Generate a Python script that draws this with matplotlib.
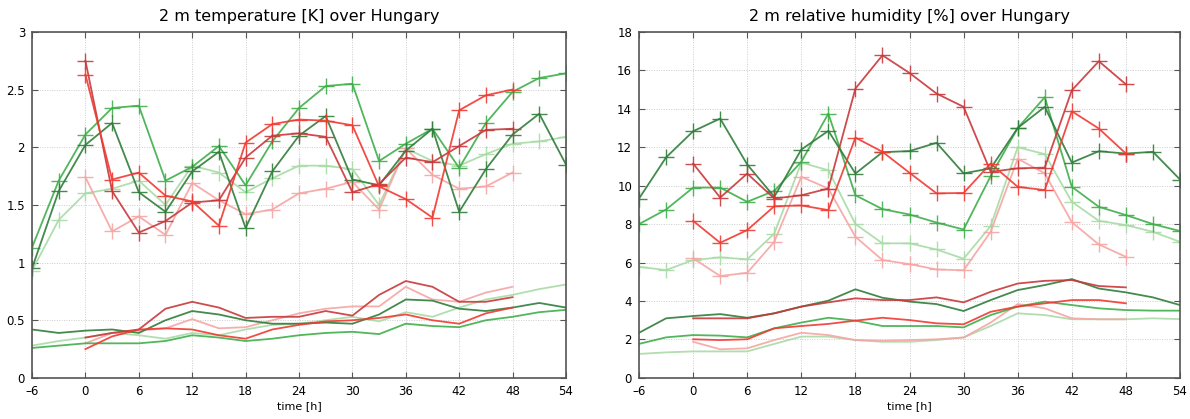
import matplotlib
matplotlib.use('Agg')
import matplotlib.pyplot as plt
import numpy as np

# forecast lead times
t_green = np.arange(-6, 55, 3)
t_red = np.arange(0, 49, 3)

# 2 m temperature [K] - upper curves (with markers)
temp_dkgreen = [0.95, 1.62, 2.02, 2.21, 1.61, 1.44, 1.79, 1.96, 1.30, 1.79, 2.10,
                2.27, 1.72, 1.67, 1.97, 2.16, 1.44, 1.81, 2.11, 2.29, 1.85]
temp_green = [1.13, 1.71, 2.11, 2.34, 2.36, 1.71, 1.83, 2.01, 1.67, 2.05, 2.34,
              2.53, 2.55, 1.88, 2.03, 2.16, 1.82, 2.21, 2.48, 2.60, 2.64]
temp_ltgreen = [0.93, 1.37, 1.60, 1.64, 1.71, 1.50, 1.84, 1.78, 1.61, 1.73, 1.84,
                1.84, 1.81, 1.50, 1.99, 1.88, 1.84, 1.94, 2.03, 2.05, 2.09]
temp_red = [2.63, 1.72, 1.78, 1.58, 1.53, 1.32, 2.04, 2.20, 2.24, 2.23, 2.19,
            1.66, 1.55, 1.39, 2.32, 2.45, 2.50]
temp_dkred = [2.75, 1.62, 1.26, 1.36, 1.52, 1.54, 1.91, 2.10, 2.12, 2.09, 1.61,
              1.68, 1.91, 1.87, 2.01, 2.15, 2.16]
temp_pink = [1.74, 1.27, 1.40, 1.24, 1.69, 1.54, 1.42, 1.46, 1.60, 1.64, 1.70,
             1.46, 1.99, 1.76, 1.64, 1.66, 1.78]
# lower curves (no markers)
temp_dkgreen_lo = [0.42, 0.39, 0.41, 0.42, 0.39, 0.50, 0.58, 0.55, 0.50, 0.47, 0.47,
                   0.48, 0.47, 0.55, 0.68, 0.67, 0.60, 0.58, 0.61, 0.65, 0.61]
temp_green_lo = [0.26, 0.28, 0.30, 0.30, 0.30, 0.32, 0.37, 0.35, 0.32, 0.34, 0.37,
                 0.39, 0.40, 0.38, 0.47, 0.45, 0.44, 0.50, 0.53, 0.57, 0.59]
temp_ltgreen_lo = [0.28, 0.32, 0.35, 0.39, 0.37, 0.34, 0.39, 0.37, 0.42, 0.46, 0.47,
                   0.50, 0.53, 0.49, 0.57, 0.53, 0.61, 0.68, 0.72, 0.77, 0.81]
temp_red_lo = [0.25, 0.36, 0.42, 0.43, 0.42, 0.37, 0.34, 0.42, 0.46, 0.49, 0.50,
               0.52, 0.55, 0.50, 0.47, 0.56, 0.61]
temp_dkred_lo = [0.35, 0.39, 0.42, 0.60, 0.66, 0.61, 0.52, 0.53, 0.53, 0.58, 0.54,
                 0.72, 0.84, 0.79, 0.66, 0.66, 0.70]
temp_pink_lo = [0.30, 0.39, 0.41, 0.43, 0.51, 0.43, 0.44, 0.50, 0.56, 0.60, 0.62,
                0.62, 0.79, 0.68, 0.66, 0.74, 0.79]

# 2 m relative humidity [%]
rh_dkgreen = [9.33, 11.47, 12.83, 13.49, 11.10, 9.42, 11.88, 12.85, 10.63, 11.74, 11.80,
              12.23, 10.64, 10.90, 13.00, 14.10, 11.20, 11.79, 11.67, 11.76, 10.32]
rh_green = [8.00, 8.76, 9.90, 9.90, 9.16, 9.73, 11.24, 13.75, 9.50, 8.78, 8.50,
            8.08, 7.72, 10.50, 13.00, 14.60, 9.94, 8.90, 8.47, 8.00, 7.64]
rh_ltgreen = [5.78, 5.61, 6.13, 6.27, 6.17, 7.51, 11.20, 10.80, 8.00, 7.00, 7.00,
              6.68, 6.20, 7.90, 12.00, 11.64, 9.16, 8.17, 7.95, 7.60, 7.08]
rh_red = [8.17, 7.03, 7.69, 8.93, 8.97, 8.73, 12.50, 11.76, 10.67, 9.60, 9.62,
          11.15, 9.94, 9.77, 13.87, 12.97, 11.67]
rh_dkred = [11.15, 9.38, 10.63, 9.33, 9.50, 9.85, 15.05, 16.78, 15.86, 14.79, 14.10,
            10.72, 10.90, 10.94, 14.96, 16.47, 15.27]
rh_pink = [6.22, 5.30, 5.47, 7.08, 10.46, 9.85, 7.34, 6.13, 5.92, 5.64, 5.60,
           7.60, 11.40, 10.64, 8.10, 6.94, 6.30]
rh_dkgreen_lo = [2.35, 3.10, 3.22, 3.32, 3.13, 3.36, 3.71, 4.02, 4.61, 4.17, 3.97,
                 3.84, 3.48, 4.05, 4.57, 4.83, 5.14, 4.65, 4.45, 4.19, 3.79]
rh_green_lo = [1.77, 2.11, 2.23, 2.20, 2.11, 2.58, 2.88, 3.13, 2.98, 2.70, 2.70,
               2.70, 2.63, 3.27, 3.71, 3.97, 3.79, 3.62, 3.53, 3.50, 3.50]
rh_ltgreen_lo = [1.25, 1.33, 1.38, 1.38, 1.38, 1.77, 2.15, 2.15, 1.97, 1.88, 1.88,
                 1.97, 2.11, 2.70, 3.36, 3.27, 3.05, 3.05, 3.05, 3.10, 3.06]
rh_red_lo = [2.01, 1.97, 2.01, 2.58, 2.70, 2.81, 2.98, 3.13, 3.01, 2.84, 2.79,
             3.44, 3.71, 3.88, 4.05, 4.05, 3.88]
rh_dkred_lo = [3.10, 3.10, 3.10, 3.36, 3.71, 3.93, 4.14, 4.05, 4.05, 4.19, 3.93,
               4.48, 4.91, 5.05, 5.09, 4.78, 4.71]
rh_pink_lo = [1.88, 1.49, 1.54, 1.97, 2.35, 2.23, 1.97, 1.94, 1.97, 2.01, 2.10,
              2.88, 3.84, 3.62, 3.10, 3.05, 3.05]

c_dkgreen = '#2f7d3a'
c_green = '#3fae4a'
c_ltgreen = '#a8dba5'
c_red = '#f03a32'
c_dkred = '#c8383a'
c_pink = '#f6a5a3'

xticks = np.arange(-6, 55, 6)

fig = plt.figure(figsize=(11.9, 4.19), dpi=100)
ax1 = fig.add_axes([0.0269, 0.098, 0.4487, 0.826])
ax2 = fig.add_axes([0.537, 0.098, 0.4546, 0.826])


def draw(ax, upper, lower):
    for t, y, c in lower:
        ax.plot(t, y, color=c, lw=1.3, alpha=0.9)
    for t, y, c in upper:
        ax.plot(t, y, color=c, lw=1.3, alpha=0.9, marker='+', ms=11, mew=1.0)


draw(ax1,
     [(t_green, temp_ltgreen, c_ltgreen), (t_red, temp_pink, c_pink),
      (t_green, temp_green, c_green), (t_green, temp_dkgreen, c_dkgreen),
      (t_red, temp_dkred, c_dkred), (t_red, temp_red, c_red)],
     [(t_green, temp_ltgreen_lo, c_ltgreen), (t_red, temp_pink_lo, c_pink),
      (t_green, temp_green_lo, c_green), (t_green, temp_dkgreen_lo, c_dkgreen),
      (t_red, temp_dkred_lo, c_dkred), (t_red, temp_red_lo, c_red)])
draw(ax2,
     [(t_green, rh_ltgreen, c_ltgreen), (t_red, rh_pink, c_pink),
      (t_green, rh_green, c_green), (t_green, rh_dkgreen, c_dkgreen),
      (t_red, rh_dkred, c_dkred), (t_red, rh_red, c_red)],
     [(t_green, rh_ltgreen_lo, c_ltgreen), (t_red, rh_pink_lo, c_pink),
      (t_green, rh_green_lo, c_green), (t_green, rh_dkgreen_lo, c_dkgreen),
      (t_red, rh_dkred_lo, c_dkred), (t_red, rh_red_lo, c_red)])

ax1.set_ylim(0, 3)
ax1.set_yticks([0, 0.5, 1, 1.5, 2, 2.5, 3])
ax1.set_yticklabels(['0', '0.5', '1', '1.5', '2', '2.5', '3'])
ax2.set_ylim(0, 18)
ax2.set_yticks(np.arange(0, 19, 2))

ax1.set_title('2 m temperature [K] over Hungary', fontsize=11.5, pad=8)
ax2.set_title('2 m relative humidity [%] over Hungary', fontsize=11.5, pad=8)

for ax in (ax1, ax2):
    ax.set_xlim(-6, 54)
    ax.set_xticks(xticks)
    ax.set_xticklabels([str(x).replace('-', '\u2013') for x in xticks])
    ax.set_xlabel('time [h]', fontsize=8, labelpad=2)
    ax.grid(True, color='#cccccc', lw=0.7, ls=(0, (1, 1.5)))
    ax.tick_params(direction='in', top=True, right=True, labelsize=8.5,
                   length=4, color='#555555', pad=5)
    for s in ax.spines.values():
        s.set_color('#555555')
        s.set_linewidth(1.2)

fig.savefig('out.png', dpi=100)
